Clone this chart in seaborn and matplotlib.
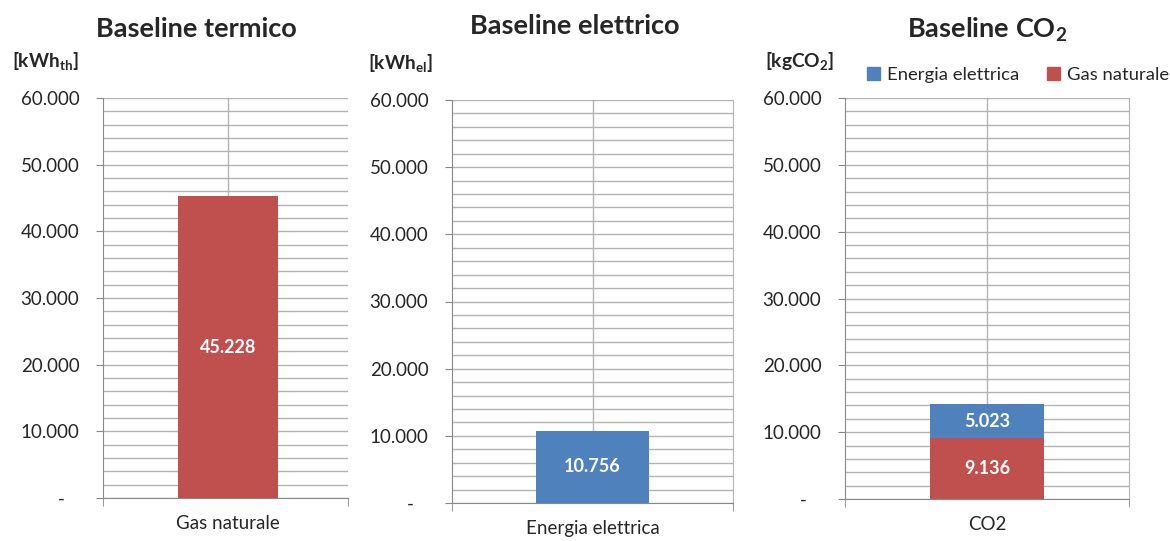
import matplotlib
matplotlib.use("Agg")
import matplotlib.pyplot as plt
import seaborn as sns
from matplotlib.ticker import MultipleLocator, FuncFormatter
from matplotlib.patches import Rectangle

# data
titles = ["Baseline termico", "Baseline elettrico", r"Baseline CO$_\mathbf{2}$"]
units = [r"[kWh$_\mathbf{th}$]", r"[kWh$_\mathbf{el}$]", r"[kgCO$_\mathbf{2}$]"]
cat_term = ["Gas naturale"]
val_term = [45228]
cat_elet = ["Energia elettrica"]
val_elet = [10756]
cat_co2 = ["CO2"]
co2_gas = [9136]
co2_elet = [5023]

red = "#C0504D"
blue = "#4F81BD"
grid_c = "#B3B3B3"
axis_c = "#888888"

sns.set_style("white")
plt.rcParams["font.family"] = ["Lato", "DejaVu Sans"]
plt.rcParams["mathtext.fontset"] = "custom"
plt.rcParams["mathtext.rm"] = "Lato"
plt.rcParams["mathtext.bf"] = "Lato:bold"

fig = plt.figure(figsize=(11.7, 5.41), dpi=100)
W, H = 1170, 541


def ax_at(l, t, r, b):
    return fig.add_axes([l / W, 1 - b / H, (r - l) / W, (b - t) / H])


def fmt(v, pos=None):
    if v == 0:
        return "-   "
    return f"{v:,.0f}".replace(",", ".")


def style(ax, right_line, shift=0.0):
    ax.set_xlim(-0.5 - shift, 0.5 - shift)
    ax.set_ylim(0, 60000)
    ax.yaxis.set_major_locator(MultipleLocator(10000))
    ax.yaxis.set_minor_locator(MultipleLocator(2000))
    ax.yaxis.set_major_formatter(FuncFormatter(fmt))
    ax.grid(True, which="both", axis="y", color=grid_c, lw=1)
    ax.axvline(0, color=grid_c, lw=1, zorder=0)
    ax.set_axisbelow(True)
    for s in ["top", "right"]:
        ax.spines[s].set_visible(False)
    if right_line:
        ax.spines["right"].set_visible(True)
        ax.spines["right"].set_color(grid_c)
    ax.spines["left"].set_color(axis_c)
    ax.spines["bottom"].set_color(axis_c)
    ax.tick_params(axis="y", which="major", direction="out", length=5, color=axis_c,
                   labelsize=13.5, pad=12, left=True)
    ax.tick_params(axis="y", which="minor", length=0)
    ax.tick_params(axis="x", which="major", length=0, labelsize=13.5, pad=12)
    ax.set_xticks([-0.5 - shift, 0.5 - shift], minor=True)
    ax.tick_params(axis="x", which="minor", direction="out", length=6, color=axis_c,
                   bottom=True)
    ax.set_xlabel("")
    ax.set_ylabel("")


def label(ax, x, y, v):
    ax.text(x, y, fmt(v), ha="center", va="center", color="white",
            fontsize=13, fontweight="bold")


# panel 1
ax1 = ax_at(103, 98, 348, 498)
sns.barplot(x=cat_term, y=val_term, color=red, width=0.41, saturation=1,
            linewidth=0, ax=ax1)
style(ax1, False, shift=0.01)
label(ax1, 0, val_term[0] / 2, val_term[0])

# panel 2
ax2 = ax_at(452, 100, 733, 503)
sns.barplot(x=cat_elet, y=val_elet, color=blue, width=0.4, saturation=1,
            linewidth=0, ax=ax2)
style(ax2, True)
label(ax2, 0, val_elet[0] / 2, val_elet[0])

# panel 3 (stacked)
ax3 = ax_at(845, 98, 1129, 499)
tot = [g + e for g, e in zip(co2_gas, co2_elet)]
sns.barplot(x=cat_co2, y=tot, color=blue, width=0.4, saturation=1,
            linewidth=0, ax=ax3)
sns.barplot(x=cat_co2, y=co2_gas, color=red, width=0.4, saturation=1,
            linewidth=0, ax=ax3)
style(ax3, True)
label(ax3, 0, co2_gas[0] / 2, co2_gas[0])
label(ax3, 0, co2_gas[0] + co2_elet[0] / 2, co2_elet[0])

# titles and units
for x, y, t in [(196, 29, titles[0]), (575, 26, titles[1]), (987, 30, titles[2])]:
    fig.text(x / W, 1 - y / H, t, ha="center", va="center", fontsize=19.5,
             fontweight="bold")
for x, y, t in [(12, 62, units[0]), (368, 64, units[1]), (765, 62, units[2])]:
    fig.text(x / W, 1 - y / H, t, ha="left", va="center", fontsize=13.8,
             fontweight="bold")

# legend
handles = [Rectangle((0, 0), 1, 1, color=blue), Rectangle((0, 0), 1, 1, color=red)]
fig.legend(handles, ["Energia elettrica", "Gas naturale"], loc="center",
           bbox_to_anchor=(1018 / W, 1 - 75 / H), ncol=2, frameon=False,
           fontsize=13.3, handlelength=0.7, handleheight=0.7, handletextpad=0.4,
           columnspacing=1.5)

fig.savefig("out.png", dpi=100)
